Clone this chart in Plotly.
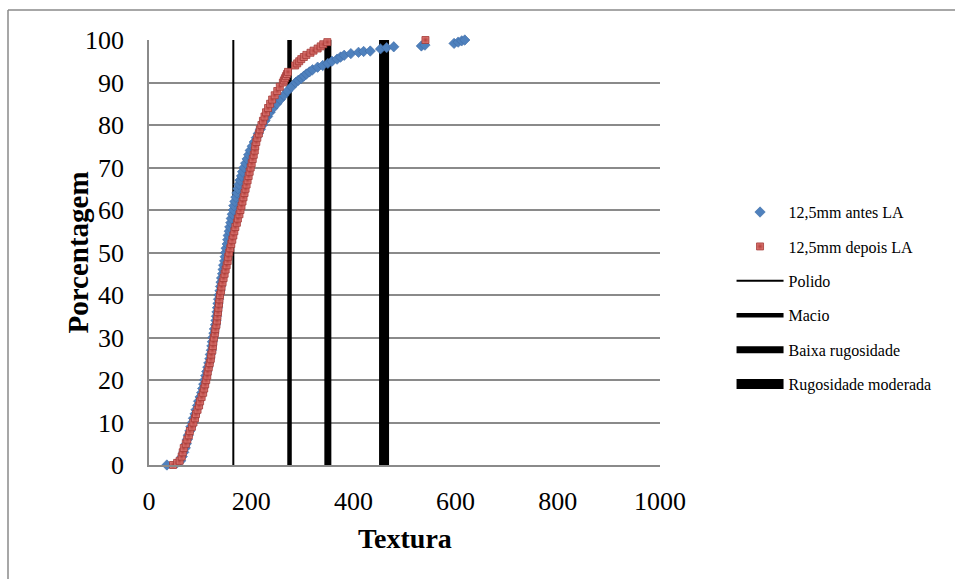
import plotly.graph_objects as go

# ---- data ----
antes_y = [0, 0.5, 1, 2, 3, 4, 5, 6, 7, 8, 9, 10, 11, 12, 13, 14, 15, 16, 17, 18, 19, 20,
           21, 22, 23, 24, 25, 26, 27, 28, 29, 30, 31, 32, 33, 34, 35, 36, 37, 38, 39, 40,
           41, 42, 43, 44, 45, 46, 47, 48, 49, 50, 51, 52, 53, 54, 55, 56, 57, 58, 59, 60,
           61, 62, 63, 64, 65, 66, 67, 68, 69, 70, 71, 72, 73, 74, 75, 76, 77, 78, 79, 80,
           81, 82, 83, 84, 85, 86, 87, 88, 89, 90, 90.5, 91, 91.5, 92, 92.5, 93, 93.6, 94,
           94.5, 95, 95.5, 96, 96.4, 96.8, 97.1, 97.3, 97.4, 97.9, 98.2, 98.4, 98.6, 98.8,
           99.2, 99.5, 99.8, 100]
antes_x = [35, 55, 62, 65, 68, 71, 73, 75, 77, 80, 82, 85, 87, 90, 92, 95, 97, 100, 103, 105, 107, 109,
           111, 113, 115, 117, 119, 120, 122, 123, 124, 125, 127, 128, 130, 131, 132, 133, 134, 135, 136, 137,
           139, 140, 141, 142, 144, 145, 146, 148, 149, 150, 151, 153, 154, 155, 157, 158, 160, 161, 163, 165,
           166, 168, 170, 172, 174, 176, 178, 181, 183, 186, 189, 192, 195, 198, 202, 206, 210, 214, 218, 222,
           227, 232, 237, 243, 250, 257, 264, 271, 279, 287, 292, 298, 303, 308, 314, 320, 330, 340,
           350, 358, 368, 375, 382, 395, 410, 420, 433, 453, 465, 479, 533, 540,
           597, 605, 612, 618]

depois_y = [0, 0.5, 1, 2, 3, 4, 5, 6, 7, 8, 9, 10, 11, 12, 13, 14, 15, 16, 17, 18, 19, 20,
            21, 22, 23, 24, 25, 26, 27, 28, 29, 30, 31, 32, 33, 34, 35, 36, 37, 38, 39, 40,
            41, 42, 43, 44, 45, 46, 47, 48, 49, 50, 51, 52, 53, 54, 55, 56, 57, 58, 59, 60,
            61, 62, 63, 64, 65, 66, 67, 68, 69, 70, 71, 72, 73, 74, 75, 76, 77, 78, 79, 80,
            81, 82, 83, 84, 85, 86, 87, 88, 89, 90, 90.5, 91, 91.5, 92, 92.5, 94, 94.5, 95,
            95.5, 96, 96.5, 97, 97.5, 98, 98.5, 99, 99.5, 100]
depois_x = [47, 55, 60, 64, 66, 68, 72, 75, 78, 80, 84, 87, 90, 92, 95, 98, 100, 103, 106, 108, 110, 112,
            114, 115, 117, 119, 121, 122, 124, 125, 126, 127, 129, 130, 132, 133, 134, 135, 136, 137, 138, 139,
            141, 142, 144, 146, 148, 150, 152, 154, 155, 157, 159, 161, 163, 165, 167, 169, 172, 174, 177, 179,
            181, 183, 185, 187, 189, 191, 193, 195, 197, 199, 201, 203, 205, 207, 208, 210, 212, 215, 217, 220,
            223, 226, 229, 233, 237, 241, 246, 251, 256, 262, 264, 266, 268, 270, 272, 286, 290, 294,
            298, 303, 308, 316, 322, 330, 336, 341, 349, 541]

class_names = ["Polido", "Macio", "Baixa rugosidade", "Rugosidade moderada"]
class_limits = [165, 275, 350, 460]
class_y = [0, 100]

x_ticks = [0, 200, 400, 600, 800, 1000]
y_ticks = [0, 10, 20, 30, 40, 50, 60, 70, 80, 90, 100]

# ---- styles ----
FONT = "Liberation Serif"
line_widths = [2, 4.5, 7, 10]
GRID = "#8a8a8a"

fig = go.Figure()

for i, (name, xv) in enumerate(zip(class_names, class_limits)):
    fig.add_trace(go.Scatter(
        x=[xv, xv], y=class_y, mode="lines", name=name,
        line=dict(color="black", width=line_widths[i]),
        legendrank=3 + i, legendgroup=name, hoverinfo="skip"))

fig.add_trace(go.Scatter(
    x=antes_x, y=antes_y, mode="markers", name="12,5mm antes LA",
    marker=dict(symbol="diamond", size=8, color="#4F81BD",
                line=dict(color="#3E6CA6", width=0.6)),
    cliponaxis=False, legendrank=1, legendgroup="a"))

fig.add_trace(go.Scatter(
    x=depois_x, y=depois_y, mode="markers", name="12,5mm depois LA",
    marker=dict(symbol="square", size=7, color="#D9736F",
                gradient=dict(type="radial", color="#B5403C"),
                line=dict(color="#A53A36", width=0.8)),
    cliponaxis=False, legendrank=2, legendgroup="b"))

bx0 = (8 - 149) / 511
by1 = (465 - 10) / 425
fig.update_layout(
    width=955, height=579,
    margin=dict(l=149, r=295, t=40, b=114, pad=0),
    paper_bgcolor="white", plot_bgcolor="white",
    font=dict(family=FONT, color="black"),
    showlegend=True,
    legend=dict(x=1.14, y=0.635, xanchor="left", yanchor="top",
                font=dict(family=FONT, size=16, color="black"),
                tracegroupgap=10.6, itemwidth=47, bgcolor="rgba(0,0,0,0)"),
    xaxis=dict(range=[0, 1000], tickvals=x_ticks, ticktext=[str(v) for v in x_ticks],
               showgrid=False, zeroline=False, showline=True, linecolor=GRID, linewidth=1.5,
               ticks="", ticklabelstandoff=12,
               tickfont=dict(family=FONT, size=26, color="black")),
    yaxis=dict(range=[0, 100], tickvals=y_ticks, ticktext=[str(v) for v in y_ticks],
               showgrid=True, gridcolor=GRID, gridwidth=1.5,
               zeroline=False, showline=True, linecolor=GRID, linewidth=1.5,
               ticks="", ticklabelstandoff=18,
               tickfont=dict(family=FONT, size=26, color="black")),
    shapes=[
        dict(type="line", xref="paper", yref="paper", x0=bx0, x1=1.7, y0=by1, y1=by1,
             line=dict(color=GRID, width=1.5), layer="below"),
        dict(type="line", xref="paper", yref="paper", x0=bx0, x1=bx0, y0=by1, y1=-0.4,
             line=dict(color=GRID, width=1.5), layer="below"),
    ],
    annotations=[
        dict(text="<b>Porcentagem</b>", xref="paper", yref="paper",
             x=(77 - 149) / 511, y=0.5, textangle=-90, showarrow=False,
             xanchor="center", yanchor="middle",
             font=dict(family=FONT, size=29, color="black")),
        dict(text="<b>Textura</b>", xref="paper", yref="paper",
             x=0.5, y=(465 - 538) / 425, showarrow=False,
             xanchor="center", yanchor="middle",
             font=dict(family=FONT, size=28, color="black")),
    ],
)

fig.write_html("out.html", config={"displayModeBar": False},
               post_script="document.body.style.margin='0';document.body.style.overflow='hidden';")
